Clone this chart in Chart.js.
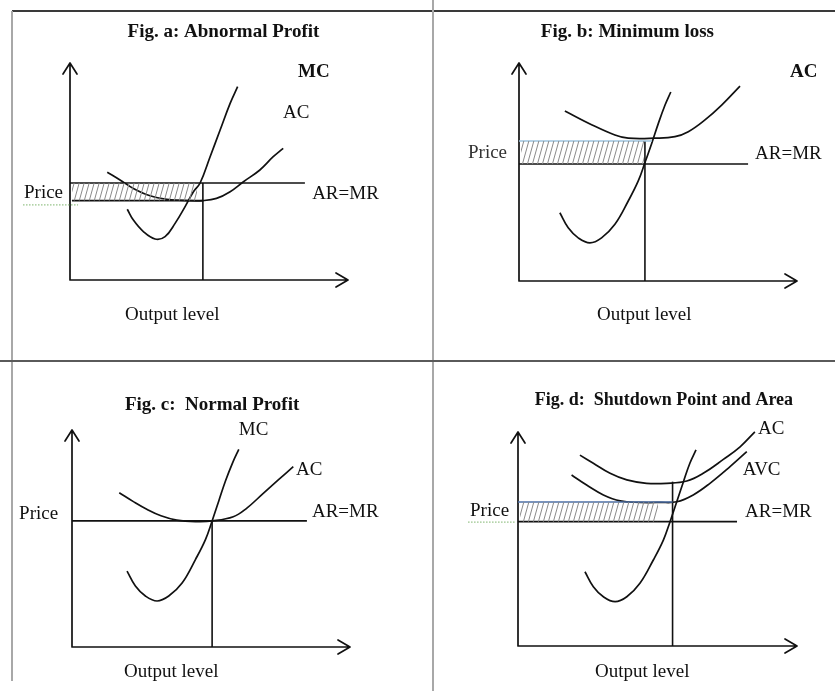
<!DOCTYPE html>
<html>
<head>
<meta charset="utf-8">
<script src="https://cdn.jsdelivr.net/npm/chart.js@4.4.1/dist/chart.umd.min.js"></script>
<style>
html,body{margin:0;padding:0;background:#fff;}
#page{position:relative;width:835px;height:691px;overflow:hidden;background:#fff;}
.rule{position:absolute;}
canvas{position:absolute;}
</style>
</head>
<body>
<div id="page">
  <div class="rule" style="left:12px;top:10px;width:823px;height:2px;background:#3a3a3a"></div>
  <div class="rule" style="left:11px;top:11px;width:2px;height:670px;background:#a8a8a8"></div>
  <div class="rule" style="left:432px;top:0px;width:2px;height:691px;background:#a8a8a8"></div>
  <div class="rule" style="left:0px;top:360px;width:835px;height:2px;background:#5a5a5a"></div>
  <canvas id="ca" width="433" height="361" style="left:0px;top:0px"></canvas>
  <canvas id="cb" width="402" height="361" style="left:433px;top:0px"></canvas>
  <canvas id="cc" width="433" height="330" style="left:0px;top:361px"></canvas>
  <canvas id="cd" width="402" height="330" style="left:433px;top:361px"></canvas>
</div>
<script>
// ---------- DATA (output on x, price/cost on y; axis range 0..10) ----------
// Fig. a: Abnormal Profit
const aMC = [[2.06,3.26],[2.28,2.76],[2.64,2.23],[3.06,1.89],[3.42,2.00],[3.78,2.61],[4.14,3.38],[4.44,4.07],[4.68,4.47],[5.04,5.68],[5.40,6.91],[5.76,8.14],[6.03,8.91]];
const aAC = [[1.34,4.97],[1.80,4.61],[2.28,4.22],[2.88,3.88],[3.48,3.72],[4.20,3.66],[4.79,3.66],[5.27,3.76],[5.76,4.07],[6.24,4.53],[6.83,5.07],[7.31,5.68],[7.67,6.07]];
const aPrice = 4.47, aPriceEnd = 8.45;
const aCost = 3.66, aCostEnd = 4.78;
const aQ = 4.78, aHatchEnd = 4.57;

// Fig. b: Minimum loss
const bMC = [[1.47,3.13],[1.77,2.44],[2.13,1.98],[2.55,1.75],[2.97,1.98],[3.45,2.60],[3.93,3.67],[4.29,4.59],[4.53,5.43],[4.77,6.30],[5.01,7.22],[5.25,8.06],[5.46,8.67]];
const bAC = [[1.65,7.80],[2.63,7.16],[3.45,6.70],[3.93,6.55],[4.89,6.55],[5.61,6.62],[6.09,6.85],[6.69,7.39],[7.29,8.07],[7.95,8.94]];
const bPrice = 5.37, bPriceEnd = 8.24;
const bCost = 6.42, bCostEnd = 4.78;
const bQ = 4.53, bHatchEnd = 4.50;

// Fig. c: Normal Profit
const cMC = [[1.98,3.50],[2.28,2.81],[2.64,2.35],[3.06,2.12],[3.48,2.35],[3.96,2.95],[4.44,4.03],[4.80,4.95],[5.04,5.81],[5.28,6.73],[5.52,7.65],[5.78,8.50],[6.00,9.11]];
const cAC = [[1.70,7.11],[2.21,6.70],[2.69,6.35],[3.20,6.05],[3.77,5.85],[4.49,5.78],[5.05,5.81],[5.80,6.00],[6.28,6.39],[6.88,7.08],[7.42,7.70],[7.96,8.31]];
const cPrice = 5.81, cPriceEnd = 8.45;
const cQ = 5.04;

// Fig. d: Shutdown Point and Area
const dMC = [[2.40,3.47],[2.70,2.77],[3.06,2.30],[3.48,2.07],[3.90,2.30],[4.37,2.93],[4.85,4.02],[5.21,4.95],[5.45,5.81],[5.69,6.74],[5.93,7.68],[6.16,8.54],[6.38,9.16]];
const dAC = [[2.22,8.92],[2.70,8.54],[3.30,8.07],[3.90,7.76],[4.61,7.60],[5.33,7.60],[6.05,7.71],[6.64,8.07],[7.36,8.72],[7.96,9.31],[8.49,10.01]];
const dAVC = [[1.92,7.99],[2.46,7.52],[3.06,7.06],[3.66,6.78],[4.37,6.71],[5.09,6.71],[5.69,6.74],[6.28,7.06],[6.88,7.60],[7.60,8.38],[8.20,9.08]];
const dPrice = 5.81, dPriceEnd = 7.85;
const dCost = 6.73, dCostEnd = 5.54;
const dQ = 5.54, dQTop = 7.68, dHatchEnd = 5.02;

// ---------- helpers ----------
const FONT = '"Liberation Serif", "Times New Roman", serif';
const INK = '#111';

function pts(arr){ return arr.map(([x,y]) => ({x, y})); }
function curve(arr){
  return {data: pts(arr), borderColor: INK, borderWidth: 1.7, pointRadius: 0,
          tension: 0.4, fill: false, clip: false};
}
function seg(x0, y0, x1, y1, color, w){
  return {data: [{x:x0,y:y0},{x:x1,y:y1}], borderColor: color || INK, borderWidth: w || 1.6,
          pointRadius: 0, tension: 0, fill: false, clip: false};
}
function hatch(ctx, x0, x1, yLow, yHigh){
  const t = document.createElement('canvas'); t.width = 5; t.height = 18;
  const g = t.getContext('2d');
  g.strokeStyle = '#8a8a8a'; g.lineWidth = 1;
  g.beginPath();
  g.moveTo(0,18); g.lineTo(5,0);
  g.moveTo(-5,18); g.lineTo(0,0);
  g.moveTo(5,18); g.lineTo(10,0);
  g.stroke();
  const pat = ctx.createPattern(t, 'repeat');
  return {data: [{x:x0,y:yHigh},{x:x1,y:yHigh}], borderWidth: 0, borderColor: 'rgba(0,0,0,0)',
          pointRadius: 0, fill: {value: yLow}, backgroundColor: pat, clip: false};
}

const econ = {
  id: 'econ',
  beforeDatasetsDraw(chart){
    const {ctx, chartArea: {left, top, right, bottom}} = chart;
    ctx.save();
    ctx.strokeStyle = INK; ctx.lineWidth = 1.7; ctx.lineCap = 'round'; ctx.lineJoin = 'round';
    ctx.beginPath();
    ctx.moveTo(left, top); ctx.lineTo(left, bottom); ctx.lineTo(right, bottom);
    ctx.moveTo(left - 7, top + 11); ctx.lineTo(left, top); ctx.lineTo(left + 7, top + 11);
    ctx.moveTo(right - 12, bottom - 7); ctx.lineTo(right, bottom); ctx.lineTo(right - 12, bottom + 7);
    ctx.stroke();
    ctx.restore();
  },
  afterDatasetsDraw(chart, args, opts){
    const ctx = chart.ctx, xs = chart.scales.x, ys = chart.scales.y;
    ctx.save();
    (opts.underlines || []).forEach(u => {
      ctx.strokeStyle = '#7bb36a'; ctx.lineWidth = 1; ctx.setLineDash([1.5,1.5]);
      ctx.beginPath();
      ctx.moveTo(xs.getPixelForValue(u.x0), ys.getPixelForValue(u.y));
      ctx.lineTo(xs.getPixelForValue(u.x1), ys.getPixelForValue(u.y));
      ctx.stroke();
    });
    ctx.setLineDash([]);
    (opts.labels || []).forEach(l => {
      ctx.font = (l.bold ? 'bold ' : '') + (l.size || 19) + 'px ' + FONT;
      ctx.textAlign = l.align || 'left';
      ctx.textBaseline = 'middle';
      ctx.fillStyle = l.color || INK;
      ctx.fillText(l.text, xs.getPixelForValue(l.x), ys.getPixelForValue(l.y));
    });
    ctx.restore();
  }
};

function makeChart(id, pad, datasets, labels, underlines){
  return new Chart(document.getElementById(id), {
    type: 'line',
    data: {datasets},
    options: {
      responsive: false, animation: false, events: [],
      layout: {padding: pad},
      scales: {
        x: {type: 'linear', min: 0, max: 10, display: false},
        y: {type: 'linear', min: 0, max: 10, display: false}
      },
      plugins: {legend: {display: false}, tooltip: {enabled: false},
                econ: {labels, underlines}}
    },
    plugins: [econ]
  });
}

// ---------- Fig. a ----------
const ctxA = document.getElementById('ca').getContext('2d');
makeChart('ca', {left: 70, top: 63, right: 85, bottom: 81}, [
  hatch(ctxA, 0.07, aHatchEnd, aCost, aPrice),
  seg(0, aPrice, aPriceEnd, aPrice),
  seg(0.07, aCost, aCostEnd, aCost),
  seg(aQ, 0, aQ, aPrice),
  curve(aMC),
  curve(aAC)
], [
  {text: 'Fig. a: Abnormal Profit', x: 5.52, y: 11.43, bold: true, align: 'center'},
  {text: 'MC', x: 8.2, y: 9.59, bold: true},
  {text: 'AC', x: 7.66, y: 7.70},
  {text: 'AR=MR', x: 8.71, y: 3.96},
  {text: 'Price', x: -0.25, y: 4.01, align: 'right'},
  {text: 'Output level', x: 1.98, y: -1.61}
], [{x0: -1.69, x1: 0.29, y: 3.46}]);

// ---------- Fig. b ----------
const ctxB = document.getElementById('cb').getContext('2d');
makeChart('cb', {left: 86, top: 63, right: 38, bottom: 80}, [
  hatch(ctxB, 0.07, bHatchEnd, bPrice, bCost),
  seg(0, bCost, bCostEnd, bCost, '#9cc3de', 1.6),
  seg(0, bPrice, bPriceEnd, bPrice),
  seg(bQ, 0, bQ, bCost),
  curve(bMC),
  curve(bAC)
], [
  {text: 'Fig. b: Minimum loss', x: 3.90, y: 11.42, bold: true, align: 'center'},
  {text: 'AC', x: 9.75, y: 9.59, bold: true},
  {text: 'AR=MR', x: 8.49, y: 5.83},
  {text: 'Price', x: -0.43, y: 5.87, align: 'right', color: '#333'},
  {text: 'Output level', x: 2.81, y: -1.56}
], []);

// ---------- Fig. c ----------
makeChart('cc', {left: 72, top: 69, right: 83, bottom: 44}, [
  seg(0, cPrice, cPriceEnd, cPrice),
  seg(cQ, 0, cQ, cPrice),
  curve(cMC),
  curve(cAC)
], [
  {text: 'Fig. c:  Normal Profit', x: 5.04, y: 11.15, bold: true, align: 'center'},
  {text: 'MC', x: 6.0, y: 10.0},
  {text: 'AC', x: 8.06, y: 8.16},
  {text: 'AR=MR', x: 8.63, y: 6.22},
  {text: 'Price', x: -0.5, y: 6.13, align: 'right'},
  {text: 'Output level', x: 1.87, y: -1.15}
], []);

// ---------- Fig. d ----------
const ctxD = document.getElementById('cd').getContext('2d');
makeChart('cd', {left: 85, top: 71, right: 38, bottom: 45}, [
  hatch(ctxD, 0.07, dHatchEnd, dPrice, dCost),
  seg(0, dCost, dCostEnd, dCost, '#4d6fa6', 1.6),
  seg(0, dPrice, dPriceEnd, dPrice),
  seg(dQ, 0, dQ, dQTop),
  curve(dMC),
  curve(dAC),
  curve(dAVC)
], [
  {text: 'Fig. d:  Shutdown Point and Area', x: 5.23, y: 11.48, bold: true, align: 'center', size: 18},
  {text: 'AC', x: 8.60, y: 10.14},
  {text: 'AVC', x: 8.06, y: 8.22},
  {text: 'AR=MR', x: 8.14, y: 6.26},
  {text: 'Price', x: -0.32, y: 6.31, align: 'right'},
  {text: 'Output level', x: 2.76, y: -1.21}
], [{x0: -1.79, x1: -0.11, y: 5.79}]);
</script>
</body>
</html>
